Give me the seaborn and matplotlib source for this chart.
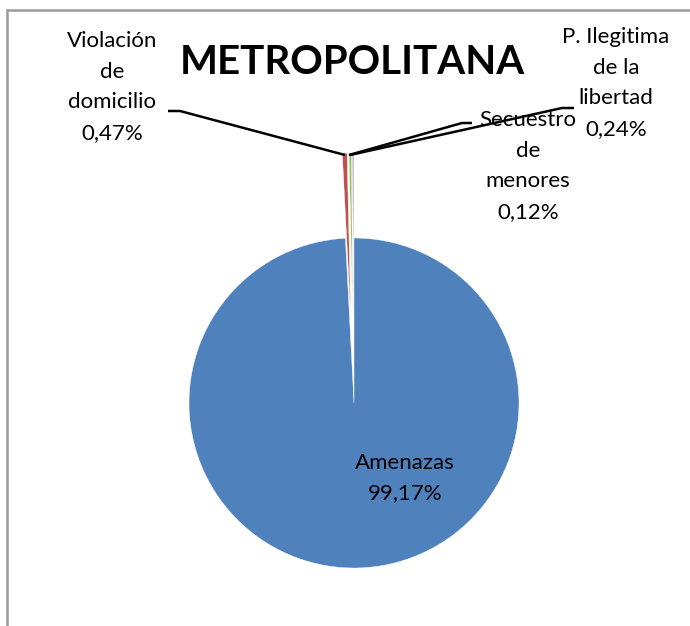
import matplotlib
matplotlib.use("Agg")
import matplotlib.pyplot as plt
from matplotlib.patches import Rectangle
import seaborn as sns

categories = ["Amenazas", "Violación\nde\ndomicilio", "P. Ilegitima\nde la\nlibertad", "Secuestro\nde\nmenores"]
values = [99.17, 0.47, 0.24, 0.12]
pct_labels = ["99,17%", "0,47%", "0,24%", "0,12%"]
colors = ["#4F81BD", "#C0504D", "#9BBB59", "#8064A2"]
title = "METROPOLITANA"

sns.set_theme(style="white")
plt.rcParams['font.family'] = ['Lato', 'DejaVu Sans']

W, H = 690, 626
fig = plt.figure(figsize=(W / 100, H / 100), dpi=100)
fig.patch.set_facecolor("white")
ax = fig.add_axes([0, 0, 1, 1])

def Y(y):
    return H - y

cx, cy, r = 354, 403, 165
explode = [0, 85, 85, 85]
ax.pie(values, colors=colors, startangle=90, counterclock=False,
       radius=r, center=(cx, Y(cy)), explode=explode,
       wedgeprops=dict(linewidth=0.3, edgecolor="white"))
ax.set_xlim(0, W)
ax.set_ylim(0, H)
ax.set_aspect("equal")
ax.axis("off")

# chart frame
fig.patches.append(Rectangle((7 / W, -0.1), 1.2, 1 - 10 / H + 0.1, transform=fig.transFigure,
                             fill=False, edgecolor="#9a9a9a", linewidth=1.8))

ax.text(352, Y(62), title, ha="center", va="center", fontsize=29, fontweight="bold", color="black")

fs = 16
ls = 1.68
# labels
ax.text(405, Y(478), categories[0] + "\n" + pct_labels[0], ha="center", va="center",
        fontsize=fs, linespacing=ls, color="black")
ax.text(112, Y(87), categories[1] + "\n" + pct_labels[1], ha="center", va="center",
        fontsize=fs, linespacing=ls, color="black")
ax.text(616, Y(83), categories[2] + "\n" + pct_labels[2], ha="center", va="center",
        fontsize=fs, linespacing=ls, color="black")
ax.text(528, Y(166), categories[3] + "\n" + pct_labels[3], ha="center", va="center",
        fontsize=fs, linespacing=ls, color="black")

# leader lines
ax.plot([168, 180, 345], [Y(111), Y(111), Y(155)], color="black", lw=1.8, solid_capstyle="butt")
ax.plot([574, 562, 350], [Y(108), Y(108), Y(155)], color="black", lw=1.8, solid_capstyle="butt")
ax.plot([472, 462, 349], [Y(123), Y(123), Y(155)], color="black", lw=1.8, solid_capstyle="butt")

fig.savefig("out.png", dpi=100, facecolor="white")
